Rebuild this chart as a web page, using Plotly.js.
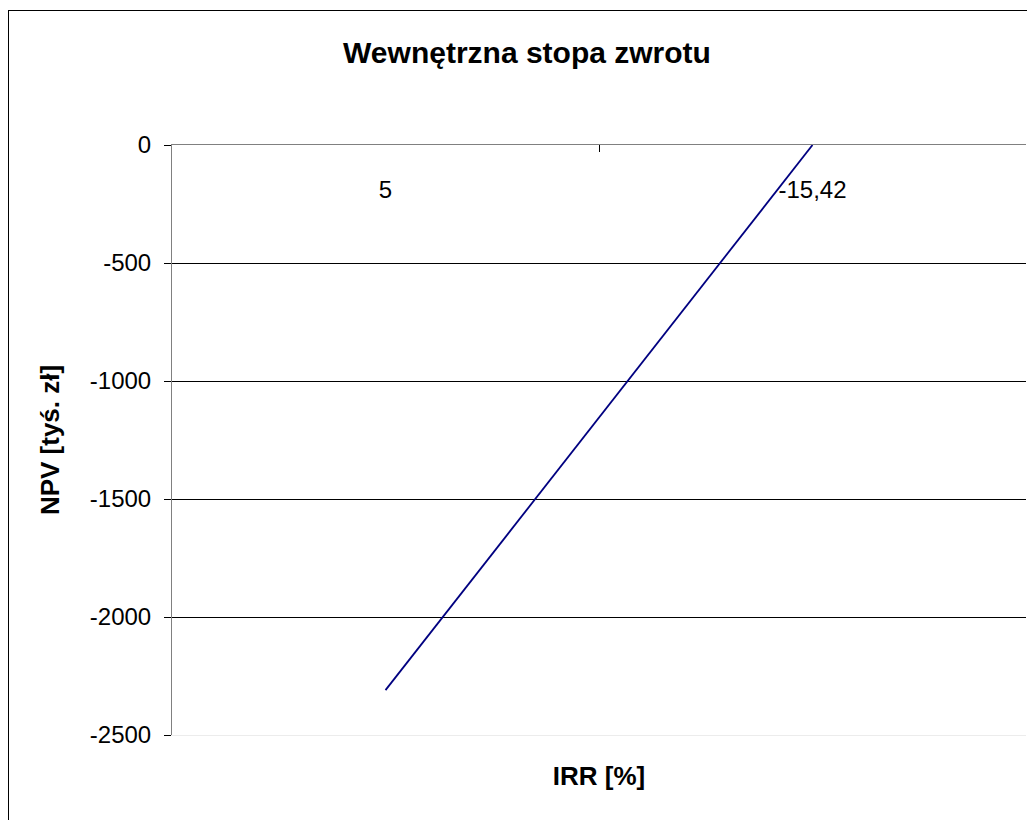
<!DOCTYPE html>
<html>
<head>
<meta charset="utf-8">
<script src="https://cdn.plot.ly/plotly-3.0.1.min.js"></script>
<style>
  html, body { margin: 0; padding: 0; background: #fff; overflow: hidden; }
  #chart { position: absolute; left: 0; top: 0; width: 1027px; height: 820px; }
  #frame { position: absolute; left: 8px; top: 10px; width: 1100px; height: 900px;
           border-left: 1px solid #000; border-top: 1px solid #000; pointer-events: none; }
</style>
</head>
<body>
<div id="chart"></div>
<div id="frame"></div>
<script>
// Data
var categories = ['5', '-15,42'];
var npv = [-2310, 0];
var yTickValues = [0, -500, -1000, -1500, -2000, -2500];
var yTickLabels = ['0', '-500', '-1000', '-1500', '-2000', '-2500'];
var gridValues = [-500, -1000, -1500, -2000];

var font = 'Liberation Sans, Arial, sans-serif';

var traces = [
  { x: categories, y: npv, xaxis: 'x', yaxis: 'y', type: 'scatter', mode: 'lines',
    line: { color: '#000080', width: 1.8 }, hoverinfo: 'x+y', showlegend: false },
  { x: categories, y: npv, xaxis: 'x2', yaxis: 'y', type: 'scatter', mode: 'lines',
    opacity: 0, hoverinfo: 'skip', showlegend: false },
  { x: categories, y: npv, xaxis: 'x3', yaxis: 'y', type: 'scatter', mode: 'lines',
    opacity: 0, hoverinfo: 'skip', showlegend: false },
  { x: categories, y: npv, xaxis: 'x', yaxis: 'y2', type: 'scatter', mode: 'lines',
    opacity: 0, hoverinfo: 'skip', showlegend: false }
];

var catAxis = { type: 'category', categoryorder: 'array', categoryarray: categories,
  range: [-0.5, 1.5], fixedrange: true };

var layout = {
  width: 1027, height: 820,
  margin: { l: 172, r: 1, t: 145, b: 85 },
  paper_bgcolor: '#fff', plot_bgcolor: '#fff',
  font: { family: font, size: 24, color: '#000' },
  title: { text: '<b>Wewnętrzna stopa zwrotu</b>', font: { family: font, size: 30, color: '#000' },
    x: 527 / 1027, xanchor: 'center', xref: 'container', y: 1 - 52 / 820, yanchor: 'middle', yref: 'container' },
  xaxis: Object.assign({}, catAxis, {
    side: 'bottom', showline: true, linecolor: '#ececec', linewidth: 1,
    showgrid: false, zeroline: false, ticks: '', showticklabels: false,
    title: { text: '<b>IRR [%]</b>', font: { family: font, size: 26, color: '#000' }, standoff: 31 }
  }),
  xaxis2: Object.assign({}, catAxis, {
    overlaying: 'x', anchor: 'free', position: 1, side: 'bottom', showline: false,
    showgrid: false, zeroline: false, ticks: '', showticklabels: true,
    ticklabelstandoff: 28,
    tickfont: { family: font, size: 24, color: '#000' }
  }),
  xaxis3: Object.assign({}, catAxis, {
    overlaying: 'x', anchor: 'y', side: 'top', showline: true, linecolor: '#808080', linewidth: 1,
    showgrid: false, zeroline: false, tickson: 'boundaries', ticks: 'inside', ticklen: 7,
    tickcolor: '#000', tickwidth: 1, showticklabels: false
  }),
  yaxis: {
    range: [-2500, 0], tickmode: 'array', tickvals: yTickValues, ticktext: yTickLabels,
    showgrid: false, zeroline: false,
    showline: true, linecolor: '#808080', linewidth: 1,
    ticks: 'outside', ticklen: 7, tickcolor: '#000', tickwidth: 1,
    ticklabelstandoff: 8,
    tickfont: { family: font, size: 24, color: '#000' }, fixedrange: true,
    title: { text: '<b>NPV [tyś. zł]</b>', font: { family: font, size: 26, color: '#000' }, standoff: 22 }
  },
  yaxis2: {
    overlaying: 'y', anchor: 'x', range: [-2500, 0], tickmode: 'array', tickvals: gridValues,
    showticklabels: false, ticks: '', showgrid: true, gridcolor: '#000', gridwidth: 1,
    zeroline: false, showline: false, fixedrange: true
  },
  showlegend: false
};

Plotly.newPlot('chart', traces, layout, { displayModeBar: false, staticPlot: true });
</script>
</body>
</html>
